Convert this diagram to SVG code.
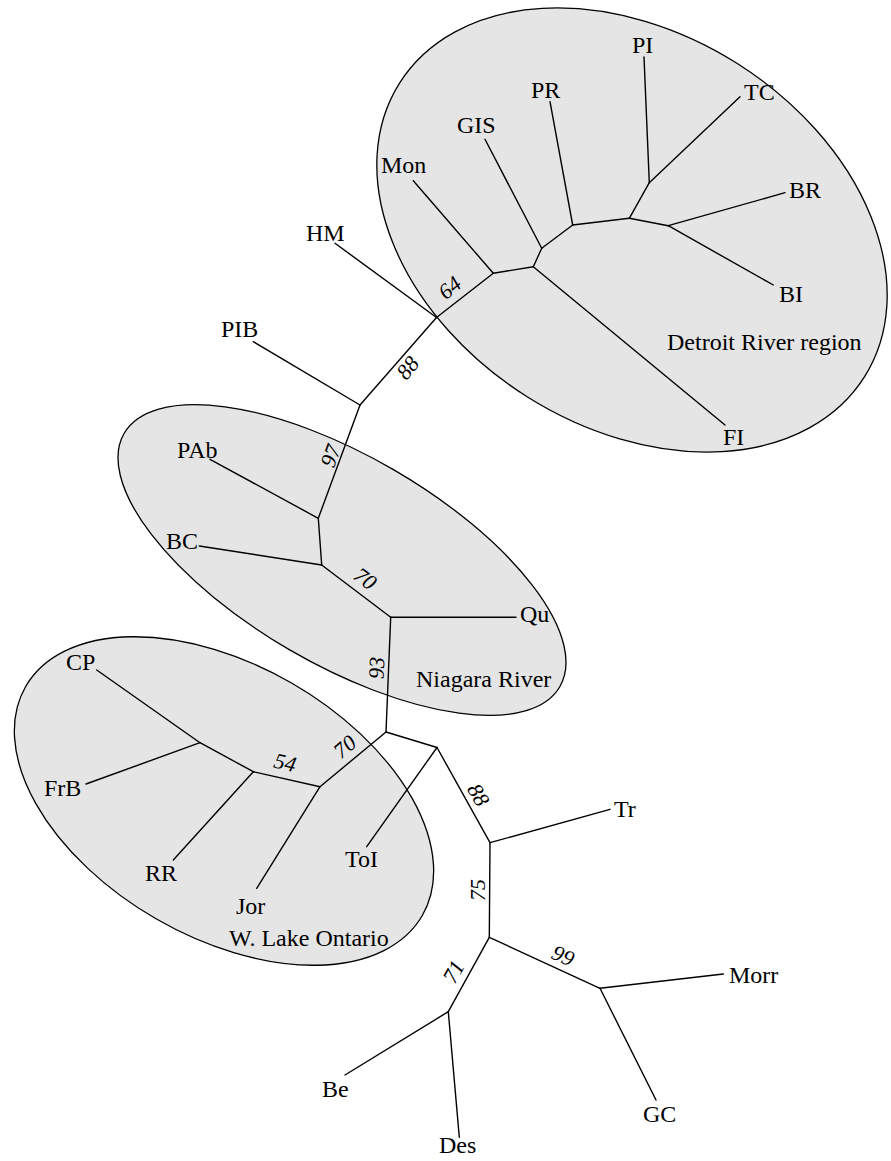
<svg xmlns="http://www.w3.org/2000/svg" width="891" height="1161" viewBox="0 0 891 1161">
<style>
.region{fill:#e5e5e5;stroke:#000;stroke-width:1.3}
.br{stroke:#000;stroke-width:1.4;fill:none;stroke-linecap:round}
.lb{font-family:"Liberation Serif","Times New Roman",serif;font-size:24px;fill:#000}
.bs{font-family:"Liberation Serif","Times New Roman",serif;font-size:22px;font-style:italic;fill:#000;text-anchor:middle}
</style>
<rect width="891" height="1161" fill="#fff"/>
<g id="regions">
<g id="region-detroit"><ellipse class="region" cx="632" cy="230" rx="275" ry="197" transform="rotate(32.3 632 230)"/></g>
<g id="region-niagara"><ellipse class="region" cx="342" cy="560" rx="252" ry="104" transform="rotate(30.2 342 560)"/></g>
<g id="region-ontario"><ellipse class="region" cx="224" cy="801" rx="229" ry="136" transform="rotate(30 224 801)"/></g>
</g>
<g id="connectors" class="br">
<path d="M644,57 L649.3,182.7"/>
<path d="M740,96.7 L649.3,182.7"/>
<path d="M649.3,182.7 L629.3,218.3"/>
<path d="M629.3,218.3 L668.3,225.7"/>
<path d="M668.3,225.7 L785,192.7"/>
<path d="M668.3,225.7 L773.3,285"/>
<path d="M572.7,225 L629.3,218.3"/>
<path d="M550,101.7 L572.7,225"/>
<path d="M541.7,248.3 L572.7,225"/>
<path d="M485,139.3 L541.7,248.3"/>
<path d="M533.3,266.7 L541.7,248.3"/>
<path d="M533.3,266.7 L725,425"/>
<path d="M493.3,273.3 L533.3,266.7"/>
<path d="M413.3,180.7 L493.3,273.3"/>
<path d="M436.5,317.5 L493.3,273.3"/>
<path d="M335,243.3 L436.5,317.5"/>
<path d="M360,405 L436.5,317.5"/>
<path d="M253.3,341.7 L360,405"/>
<path d="M318.3,518.3 L360,405"/>
<path d="M210,459.3 L318.3,518.3"/>
<path d="M318.3,518.3 L321.7,565"/>
<path d="M199.3,546 L321.7,565"/>
<path d="M321.7,565 L390.7,617.3"/>
<path d="M390.7,617.3 L516,617.3"/>
<path d="M390.7,617.3 L386,732"/>
<path d="M386,732 L320,786.7"/>
<path d="M386,732 L437,747.5"/>
<path d="M437,747.5 L366.7,846.7"/>
<path d="M437,747.5 L490,842.7"/>
<path d="M490,842.7 L610,809.3"/>
<path d="M490,842.7 L489.3,937.3"/>
<path d="M489.3,937.3 L600,988.3"/>
<path d="M600,988.3 L723.3,974"/>
<path d="M600,988.3 L656,1100"/>
<path d="M489.3,937.3 L448.3,1011.7"/>
<path d="M448.3,1011.7 L345,1075"/>
<path d="M448.3,1011.7 L459.3,1137.3"/>
<path d="M320,786.7 L253.3,771.7"/>
<path d="M320,786.7 L256.7,888.3"/>
<path d="M253.3,771.7 L173.3,860"/>
<path d="M253.3,771.7 L200,742.7"/>
<path d="M200,742.7 L96.7,670"/>
<path d="M200,742.7 L86,784"/>
</g>
<g id="support">
<text class="bs" transform="translate(450,288) rotate(-40)" y="7">64</text>
<text class="bs" transform="translate(408,368) rotate(-50)" y="7">88</text>
<text class="bs" transform="translate(331,456) rotate(-70)" y="7">97</text>
<text class="bs" transform="translate(365,579) rotate(37)" y="7">70</text>
<text class="bs" transform="translate(377,668) rotate(-88)" y="7">93</text>
<text class="bs" transform="translate(345,747) rotate(-40)" y="7">70</text>
<text class="bs" transform="translate(285,763) rotate(13)" y="7">54</text>
<text class="bs" transform="translate(478,795) rotate(60)" y="7">88</text>
<text class="bs" transform="translate(478,890) rotate(-90)" y="7">75</text>
<text class="bs" transform="translate(563,956) rotate(25)" y="7">99</text>
<text class="bs" transform="translate(454,972) rotate(-61)" y="7">71</text>
</g>
<g id="node-PI"><text class="lb" x="632" y="53">PI</text></g>
<g id="node-TC"><text class="lb" x="744" y="100">TC</text></g>
<g id="node-PR"><text class="lb" x="531" y="98">PR</text></g>
<g id="node-GIS"><text class="lb" x="457" y="133">GIS</text></g>
<g id="node-Mon"><text class="lb" x="381" y="173">Mon</text></g>
<g id="node-BR"><text class="lb" x="789" y="198">BR</text></g>
<g id="node-BI"><text class="lb" x="779" y="302">BI</text></g>
<g id="node-FI"><text class="lb" x="723" y="445">FI</text></g>
<g id="node-HM"><text class="lb" x="306" y="241">HM</text></g>
<g id="node-PIB"><text class="lb" x="221" y="337">PIB</text></g>
<g id="node-PAb"><text class="lb" x="177" y="458">PAb</text></g>
<g id="node-BC"><text class="lb" x="166" y="549">BC</text></g>
<g id="node-Qu"><text class="lb" x="520" y="622">Qu</text></g>
<g id="node-CP"><text class="lb" x="66" y="670">CP</text></g>
<g id="node-FrB"><text class="lb" x="44" y="796">FrB</text></g>
<g id="node-RR"><text class="lb" x="145" y="881">RR</text></g>
<g id="node-Jor"><text class="lb" x="236" y="914">Jor</text></g>
<g id="node-ToI"><text class="lb" x="345" y="867">ToI</text></g>
<g id="node-Tr"><text class="lb" x="614" y="817">Tr</text></g>
<g id="node-Morr"><text class="lb" x="729" y="983">Morr</text></g>
<g id="node-GC"><text class="lb" x="643" y="1122">GC</text></g>
<g id="node-Be"><text class="lb" x="322" y="1097">Be</text></g>
<g id="node-Des"><text class="lb" x="439" y="1153">Des</text></g>
<g id="labels">
<text class="lb" x="667" y="350">Detroit River region</text>
<text class="lb" x="416" y="687">Niagara River</text>
<text class="lb" x="229" y="946">W. Lake Ontario</text>
</g>
</svg>
